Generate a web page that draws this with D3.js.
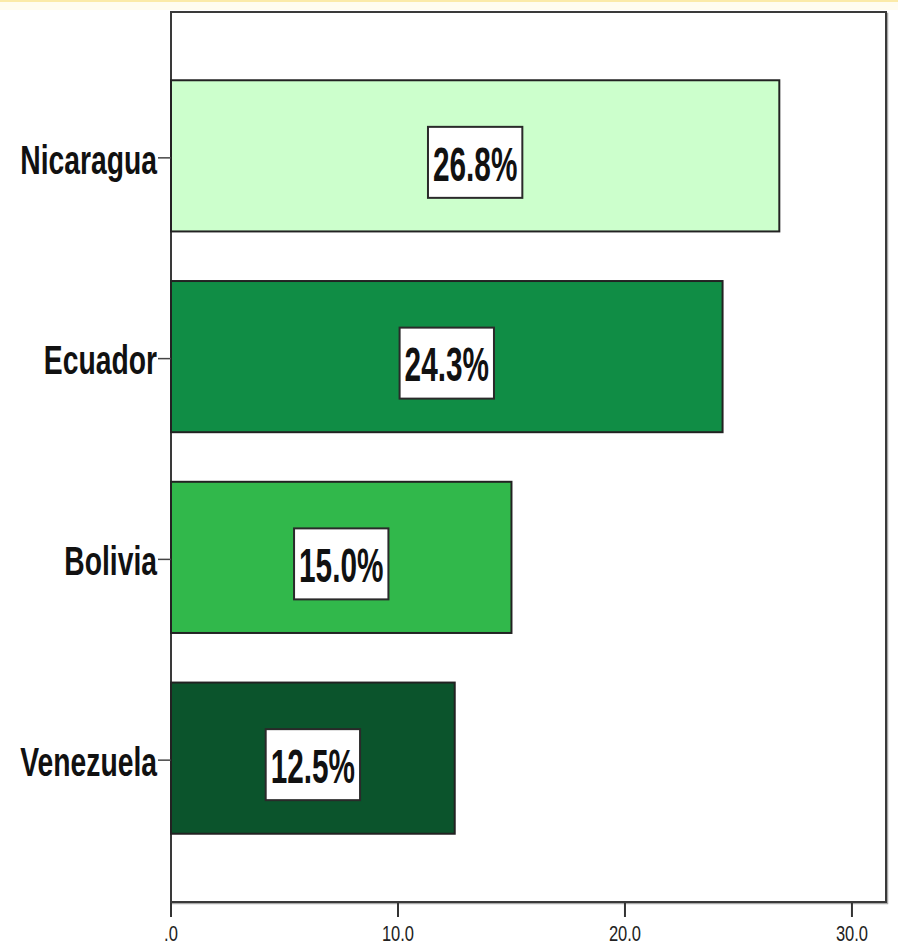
<!DOCTYPE html>
<html>
<head>
<meta charset="utf-8">
<script src="https://cdn.jsdelivr.net/npm/d3@7"></script>
<style>
  html, body { margin: 0; padding: 0; background: #ffffff; }
  svg { display: block; }
</style>
</head>
<body>
<div id="chart"></div>
<script>
// Share of respondents by country (percent)
const countries = ["Nicaragua", "Ecuador", "Bolivia", "Venezuela"];
const values = [26.8, 24.3, 15.0, 12.5];
const barColors = ["#ccffcc", "#108d45", "#31b84b", "#0b542c"];
const xTicks = [0, 10, 20, 30];
const xTickLabels = [".0", "10.0", "20.0", "30.0"];

const W = 898, H = 948;
const plot = { left: 171, right: 886, top: 12, bottom: 902 };

const svg = d3.select("#chart").append("svg")
  .attr("width", W).attr("height", H);

// thin pale-yellow rule across the very top
svg.append("rect").attr("x", 0).attr("y", 0).attr("width", W).attr("height", 2)
  .attr("fill", "#fbeaa9");
svg.append("rect").attr("x", 0).attr("y", 2).attr("width", W).attr("height", 8)
  .attr("fill", "#fffbea").attr("opacity", 0.7);

const x = d3.scaleLinear().domain([0, 31.5]).range([plot.left, plot.right]);
const y = d3.scaleBand().domain(countries)
  .range([plot.top, plot.bottom])
  .paddingInner(0.247).paddingOuter(0.34);

// plot frame with a soft grey shadow
svg.append("rect")
  .attr("x", plot.left + 1.5).attr("y", plot.top + 1.5)
  .attr("width", plot.right - plot.left).attr("height", plot.bottom - plot.top)
  .attr("fill", "none").attr("stroke", "#a8a8a8").attr("stroke-width", 1.5);
svg.append("rect")
  .attr("x", plot.left).attr("y", plot.top)
  .attr("width", plot.right - plot.left).attr("height", plot.bottom - plot.top)
  .attr("fill", "#ffffff").attr("stroke", "#3a3a3a").attr("stroke-width", 2);

const data = countries.map((c, i) => ({ country: c, value: values[i], color: barColors[i] }));

// bars
svg.append("g").selectAll("rect")
  .data(data).join("rect")
  .attr("x", x(0))
  .attr("y", d => y(d.country))
  .attr("width", d => x(d.value) - x(0))
  .attr("height", y.bandwidth())
  .attr("fill", d => d.color)
  .attr("stroke", "#222")
  .attr("stroke-width", 2);

// value labels in white boxes
const labelSX = 0.62;
const lab = svg.append("g").selectAll("g")
  .data(data).join("g")
  .attr("transform", d => `translate(${(x(0) + x(d.value)) / 2},${y(d.country) + y.bandwidth() / 2 + 6.5})`);
const boxes = lab.append("rect")
  .attr("fill", "#ffffff").attr("stroke", "#2a2a2a").attr("stroke-width", 2);
const vt = lab.append("text")
  .attr("transform", `scale(${labelSX},1)`)
  .attr("text-anchor", "middle")
  .attr("dy", "0.36em")
  .attr("y", 1)
  .style("font-family", "'Liberation Sans', Arial, sans-serif")
  .style("font-weight", "bold")
  .style("font-size", "48px")
  .attr("fill", "#111")
  .text(d => d.value.toFixed(1) + "%");
vt.each(function(d, i) {
  const w = this.getBBox().width * labelSX;
  d3.select(boxes.nodes()[i])
    .attr("x", -(w + 10) / 2).attr("y", -35.5)
    .attr("width", w + 10).attr("height", 71);
});

// category axis: ticks and labels
const catG = svg.append("g").selectAll("g")
  .data(countries).join("g")
  .attr("transform", c => `translate(${plot.left},${y(c) + y.bandwidth() / 2 + 2})`);
catG.append("line")
  .attr("x1", -13).attr("x2", 0)
  .attr("stroke", "#444").attr("stroke-width", 1.5);
catG.append("text")
  .attr("transform", "translate(-14,1) scale(0.69,1)")
  .attr("text-anchor", "end")
  .attr("dy", "0.36em")
  .style("font-family", "'Liberation Sans', Arial, sans-serif")
  .style("font-weight", "bold")
  .style("font-size", "41px")
  .attr("fill", "#111")
  .text(c => c);

// value axis along the bottom
const tickG = svg.append("g").selectAll("g")
  .data(xTicks).join("g")
  .attr("transform", t => `translate(${x(t)},${plot.bottom})`);
tickG.append("line")
  .attr("y1", 1).attr("y2", 15)
  .attr("stroke", "#333").attr("stroke-width", 2);
tickG.append("text")
  .attr("transform", "translate(0,39) scale(0.75,1)")
  .attr("text-anchor", "middle")
  .style("font-family", "'Liberation Sans', Arial, sans-serif")
  .style("font-size", "22px")
  .attr("fill", "#222")
  .text((t, i) => xTickLabels[i]);
</script>
</body>
</html>
